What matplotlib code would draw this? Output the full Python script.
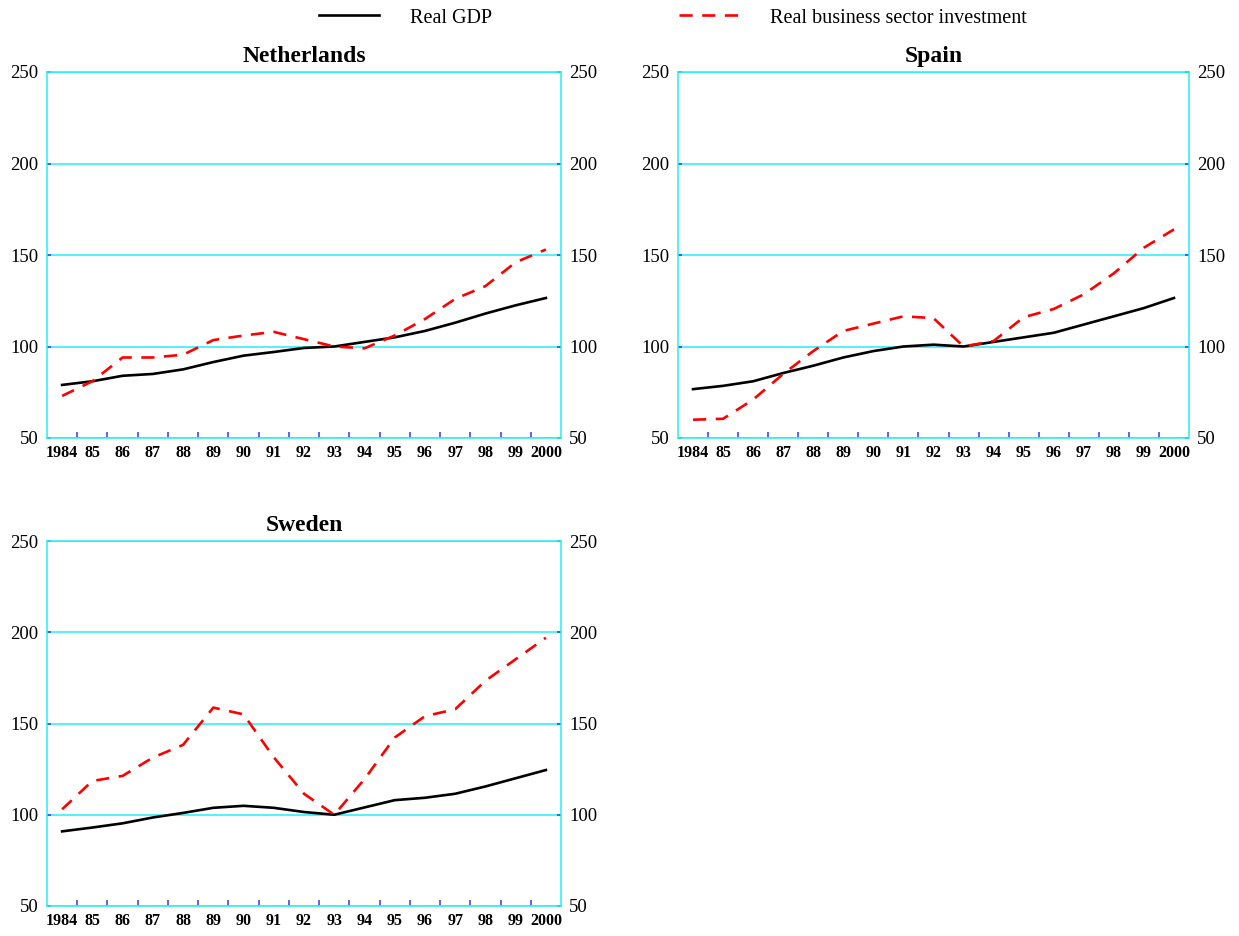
import matplotlib
matplotlib.use("Agg")
import matplotlib.pyplot as plt
from matplotlib.lines import Line2D

years = list(range(1984, 2001))
year_labels = ["1984", "85", "86", "87", "88", "89", "90", "91", "92", "93",
               "94", "95", "96", "97", "98", "99", "2000"]

nl_gdp = [79, 81, 84, 85, 87.5, 91.5, 95, 97, 99.2, 100, 102.5, 105, 108.5, 113, 118, 122.5, 126.5]
nl_inv = [73, 81, 94, 94, 95.5, 103.5, 106, 108, 104, 100, 99, 106, 115, 126, 133, 146, 153]

es_gdp = [76.7, 78.5, 81, 85.5, 89.5, 94, 97.5, 100, 101, 100, 102.5, 105, 107.5, 112, 116.5, 121, 126.5]
es_inv = [60, 60.5, 71, 85, 97.5, 108.5, 112.5, 116.5, 115.5, 100, 103, 116, 120.5, 128.5, 140, 154, 164]

se_gdp = [90.9, 93, 95.3, 98.5, 101, 103.8, 104.9, 103.8, 101.5, 100, 104, 108, 109.3, 111.5, 115.5, 120, 124.5]
se_inv = [103, 118.5, 121.3, 131.3, 138.3, 158.7, 155, 131.5, 111.5, 100, 119.5, 142.3, 154, 157.8, 173.4, 185.2, 197]

y_ticks = [50, 100, 150, 200, 250]

plt.rcParams["font.family"] = ["Liberation Serif", "DejaVu Serif"]

CYAN = "#22F0F5"
TICK_BLUE = "#2a3cf0"
RED = "#ff0000"

fig = plt.figure(figsize=(12.39, 9.36), dpi=100)
W, H = 1239, 936


def px_axes(left, top, right, bottom):
    return fig.add_axes([left / W, 1 - bottom / H, (right - left) / W, (bottom - top) / H])


def panel(ax, title, gdp, inv):
    x = list(range(len(years)))
    ax.plot(x, gdp, color="black", lw=1.9, solid_joinstyle="round", zorder=3)
    ax.plot(x, inv, color=RED, lw=1.9, dashes=(5, 3.6), zorder=3)
    ax.set_xlim(-0.5, len(years) - 0.5)
    ax.set_ylim(50, 250)
    ax.set_yticks(y_ticks)
    ax.set_yticklabels([str(v) for v in y_ticks])
    ax.set_xticks(x)
    ax.set_xticklabels(year_labels, fontweight="bold", fontsize=11.5)
    ax.set_xticks([i + 0.5 for i in range(len(years) - 1)], minor=True)
    ax.tick_params(axis="x", which="major", length=0, pad=5)
    ax.tick_params(axis="x", which="minor", direction="in", length=4,
                   color=TICK_BLUE, width=1.1)
    ax.tick_params(axis="y", which="major", direction="in", length=3,
                   color=TICK_BLUE, width=1.1, left=True, right=True,
                   labelleft=True, labelright=True, labelsize=13.5, pad=6)
    for s in ax.spines.values():
        s.set_color(CYAN)
        s.set_linewidth(1.1)
    ax.grid(axis="y", color=CYAN, lw=1.1, zorder=1)
    ax.set_axisbelow(True)
    ax.set_title(title, fontweight="bold", fontsize=17, pad=7)


ax_nl = px_axes(47, 72, 561, 438)
ax_es = px_axes(678, 72, 1189, 438)
ax_se = px_axes(47, 541, 561, 906)

panel(ax_nl, "Netherlands", nl_gdp, nl_inv)
panel(ax_es, "Spain", es_gdp, es_inv)
panel(ax_se, "Sweden", se_gdp, se_inv)

handles = [Line2D([], [], color="black", lw=1.9),
           Line2D([], [], color=RED, lw=1.9, dashes=(5, 3.6))]
fig.legend(handles, ["Real GDP", "Real business sector investment"],
           loc="center left", bbox_to_anchor=(319 / W, 1 - 18 / H),
           ncol=2, frameon=False, fontsize=14.5, handlelength=3.0,
           handletextpad=1.5, columnspacing=9.3, borderpad=0,
           borderaxespad=0)

fig.savefig("out.png", dpi=100)
